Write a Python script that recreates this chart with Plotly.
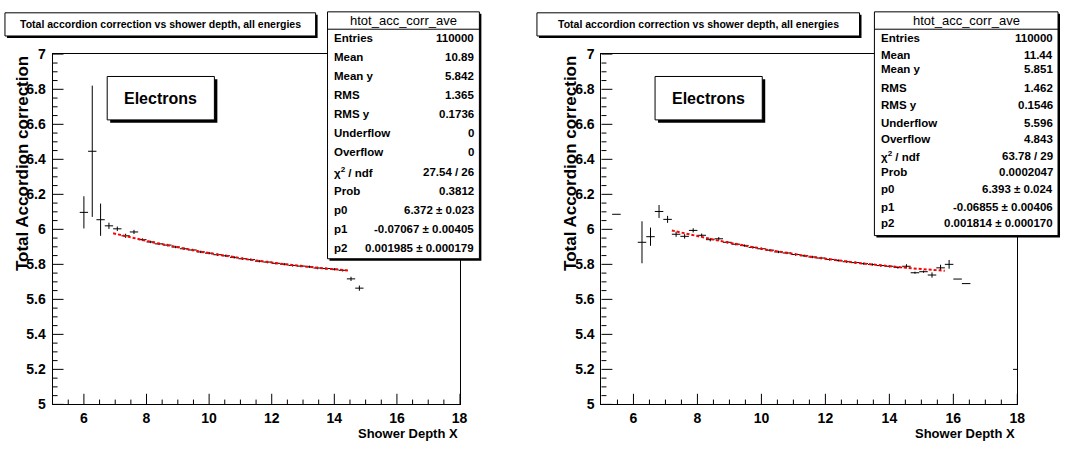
import numpy as np
import plotly.graph_objects as go

W, H = 1069, 450

# ---------------- profile data: bin centre, mean value, error on mean ----------------
left_x = [6.000, 6.267, 6.533, 6.800, 7.067, 7.333, 7.600, 7.867, 8.133, 8.400,
          8.667, 8.933, 9.200, 9.467, 9.733, 10.000, 10.267, 10.533, 10.800, 11.067,
          11.333, 11.600, 11.867, 12.133, 12.400, 12.667, 12.933, 13.200, 13.467, 13.733,
          14.000, 14.267, 14.533, 14.800]
left_y = [6.097, 6.446, 6.055, 6.020, 6.003, 5.963, 5.985, 5.941, 5.928, 5.917,
          5.910, 5.899, 5.889, 5.882, 5.871, 5.864, 5.855, 5.849, 5.840, 5.832,
          5.827, 5.818, 5.813, 5.806, 5.801, 5.794, 5.790, 5.786, 5.779, 5.776,
          5.772, 5.766, 5.717, 5.664]
left_err = [0.092, 0.375, 0.092, 0.018, 0.013, 0.012, 0.012, 0.008, 0.007, 0.007,
            0.007, 0.007, 0.007, 0.007, 0.007, 0.007, 0.007, 0.007, 0.007, 0.007,
            0.007, 0.007, 0.007, 0.007, 0.007, 0.007, 0.007, 0.007, 0.007, 0.007,
            0.007, 0.007, 0.012, 0.015]

right_x = [5.467, 6.267, 6.533, 6.800, 7.067, 7.333, 7.600, 7.867, 8.133, 8.400,
           8.667, 8.933, 9.200, 9.467, 9.733, 10.000, 10.267, 10.533, 10.800, 11.067,
           11.333, 11.600, 11.867, 12.133, 12.400, 12.667, 12.933, 13.200, 13.467, 13.733,
           14.000, 14.267, 14.533, 14.800, 15.067, 15.333, 15.600, 15.867, 16.133, 16.400,
           18.000]
right_y = [6.086, 5.926, 5.958, 6.102, 6.057, 5.972, 5.960, 5.994, 5.966, 5.941,
           5.946, 5.926, 5.915, 5.907, 5.897, 5.889, 5.881, 5.871, 5.865, 5.856,
           5.849, 5.842, 5.836, 5.828, 5.822, 5.815, 5.810, 5.804, 5.799, 5.793,
           5.789, 5.782, 5.789, 5.752, 5.758, 5.739, 5.780, 5.800, 5.716, 5.690,
           5.200]
right_err = [0.0, 0.120, 0.052, 0.037, 0.020, 0.015, 0.013, 0.012, 0.010, 0.010,
             0.010, 0.007, 0.007, 0.007, 0.007, 0.007, 0.007, 0.007, 0.007, 0.007,
             0.007, 0.007, 0.007, 0.007, 0.007, 0.007, 0.007, 0.007, 0.007, 0.007,
             0.007, 0.007, 0.012, 0.006, 0.006, 0.015, 0.018, 0.025, 0.0, 0.0,
             0.0]

BIN_HALF_WIDTH = 2.0 / 15.0

# pol2 fit results and fit ranges
left_fit = {"p0": 6.372, "p1": -0.07067, "p2": 0.001985, "xmin": 6.933, "xmax": 14.45}
right_fit = {"p0": 6.393, "p1": -0.06855, "p2": 0.001814, "xmin": 7.200, "xmax": 15.733}

left_stats = [("Entries", "110000"), ("Mean", "10.89"), ("Mean y", "5.842"),
              ("RMS", "1.365"), ("RMS y", "0.1736"), ("Underflow", "0"),
              ("Overflow", "0"), ("χ<sup>2</sup> / ndf", "27.54 / 26"),
              ("Prob", "0.3812"), ("p0", "6.372 ± 0.023"),
              ("p1", "-0.07067 ± 0.00405"), ("p2", "0.001985 ± 0.000179")]
right_stats = [("Entries", "110000"), ("Mean", "11.44"), ("Mean y", "5.851"),
               ("RMS", "1.462"), ("RMS y", "0.1546"), ("Underflow", "5.596"),
               ("Overflow", "4.843"), ("χ<sup>2</sup> / ndf", "63.78 / 29"),
               ("Prob", "0.0002047"), ("p0", "6.393 ± 0.024"),
               ("p1", "-0.06855 ± 0.00406"), ("p2", "0.001814 ± 0.000170")]

TITLE = "Total accordion correction vs shower depth, all energies"
HIST_NAME = "htot_acc_corr_ave"
Y_TITLE = "Total Accordion correction"
X_TITLE = "Shower Depth X"
LABEL = "Electrons"

X_RANGE = [5, 18]
Y_RANGE = [5, 7]
X_TICKS = [6, 8, 10, 12, 14, 16, 18]
X_MINOR = [5.5, 6.5, 7, 7.5, 8.5, 9, 9.5, 10.5, 11, 11.5, 12.5, 13, 13.5,
           14.5, 15, 15.5, 16.5, 17, 17.5]
Y_TICKS = [5.0, 5.2, 5.4, 5.6, 5.8, 6.0, 6.2, 6.4, 6.6, 6.8, 7.0]
Y_TICKTEXT = ["5", "5.2", "5.4", "5.6", "5.8", "6", "6.2", "6.4", "6.6", "6.8", "7"]
Y_MINOR_STEP = 0.05

FONT = "Liberation Sans, Arial, Helvetica, sans-serif"

# frame geometry in pixels (left, right, top, bottom)
frames = [(53, 463, 48, 411), (606, 1025, 48, 411)]
MAJOR_LEN, MINOR_LEN = 11, 5


def px(x):
    return x / W


def py(y):
    return 1 - y / H


fig = go.Figure()

panels = [
    (left_x, left_y, left_err, left_fit, "x", "y"),
    (right_x, right_y, right_err, right_fit, "x2", "y2"),
]
for xs, ys, errs, fit, xa, ya in panels:
    fig.add_trace(go.Scatter(
        x=xs, y=ys, mode="markers", xaxis=xa, yaxis=ya,
        marker=dict(size=1, color="black", opacity=0),
        error_x=dict(type="constant", value=BIN_HALF_WIDTH, width=0,
                     color="black", thickness=1),
        error_y=dict(type="data", array=errs, width=0, color="black", thickness=1),
        showlegend=False, hoverinfo="skip",
    ))
    xf = np.linspace(fit["xmin"], fit["xmax"], 200)
    yf = fit["p0"] + fit["p1"] * xf + fit["p2"] * xf ** 2
    fig.add_trace(go.Scatter(
        x=xf, y=yf, mode="lines", xaxis=xa, yaxis=ya,
        line=dict(color="red", width=2, dash="3px,2px"),
        showlegend=False, hoverinfo="skip",
    ))

tickfont = dict(family=FONT, size=14, color="black", weight="bold")


def xaxis_cfg(fr, anchor):
    return dict(
        domain=[px(fr[0]), px(fr[1])], anchor=anchor, range=X_RANGE,
        tickmode="array", tickvals=X_TICKS, ticktext=[str(t) for t in X_TICKS],
        ticks="", ticklabelstandoff=1,
        showline=True, linecolor="black", linewidth=1, mirror=True,
        showgrid=False, zeroline=False, tickfont=tickfont,
    )


def yaxis_cfg(fr, anchor):
    return dict(
        domain=[py(fr[3]), py(fr[2])], anchor=anchor, range=Y_RANGE,
        tickmode="array", tickvals=Y_TICKS, ticktext=Y_TICKTEXT,
        ticks="", ticklabelstandoff=3,
        showline=True, linecolor="black", linewidth=1, mirror=True,
        showgrid=False, zeroline=False, tickfont=tickfont,
    )


shapes = []
annotations = []

# tick marks drawn inward from the bottom and left frame edges
y_minor = [Y_RANGE[0] + Y_MINOR_STEP * i
           for i in range(int(round((Y_RANGE[1] - Y_RANGE[0]) / Y_MINOR_STEP)) + 1)]
y_minor = [v for v in y_minor if all(abs(v - t) > 1e-6 for t in Y_TICKS)]
for fr, xa, ya in [(frames[0], "x", "y"), (frames[1], "x2", "y2")]:
    fw, fh = fr[1] - fr[0], fr[3] - fr[2]
    for vals, ln in [(X_TICKS, MAJOR_LEN), (X_MINOR, MINOR_LEN)]:
        for v in vals:
            shapes.append(dict(type="line", xref=xa, yref=ya + " domain",
                               x0=v, x1=v, y0=0, y1=ln / fh,
                               line=dict(color="black", width=1)))
    for vals, ln in [(Y_TICKS, MAJOR_LEN), (y_minor, MINOR_LEN)]:
        for v in vals:
            shapes.append(dict(type="line", xref=xa + " domain", yref=ya,
                               x0=0, x1=ln / fw, y0=v, y1=v,
                               line=dict(color="black", width=1)))


def box(x0, y0, x1, y1, shadow=3):
    shapes.append(dict(type="rect", xref="paper", yref="paper", layer="above",
                       x0=px(x0 + shadow), x1=px(x1 + shadow),
                       y0=py(y1 + shadow), y1=py(y0 + shadow),
                       fillcolor="black", line=dict(width=0)))
    shapes.append(dict(type="rect", xref="paper", yref="paper", layer="above",
                       x0=px(x0), x1=px(x1), y0=py(y1), y1=py(y0),
                       fillcolor="white", line=dict(color="black", width=1)))


def text(x, y, s, size, bold=True, xanchor="center", angle=0):
    annotations.append(dict(
        x=px(x), y=py(y), xref="paper", yref="paper", text=s, showarrow=False,
        xanchor=xanchor, yanchor="middle", textangle=angle,
        font=dict(family=FONT, size=size, color="black",
                  weight="bold" if bold else "normal"),
    ))


layouts = [
    # title box, stat box, row centres, label box, y-title x
    dict(title=(5, 5, 318, 29), stat=(330, 4, 483, 260),
         rows=[31 + 19.8 * i for i in range(12)], label=(108, 71, 216, 116),
         ytitle=22, stats=left_stats),
    dict(title=(541, 5, 866, 29), stat=(881, 4, 1066, 236),
         rows=[31, 49, 63, 83, 101, 119, 136, 153, 170, 188, 206, 223],
         label=(660, 71, 768, 116), ytitle=575, stats=right_stats),
]

for fr, L in zip(frames, layouts):
    tx0, ty0, tx1, ty1 = L["title"]
    box(tx0, ty0, tx1, ty1, shadow=2)
    text((tx0 + tx1) / 2, (ty0 + ty1) / 2, TITLE, 10.5)

    sx0, sy0, sx1, sy1 = L["stat"]
    box(sx0, sy0, sx1, sy1, shadow=2)
    shapes.append(dict(type="line", xref="paper", yref="paper", layer="above",
                       x0=px(sx0), x1=px(sx1), y0=py(sy0 + 18), y1=py(sy0 + 18),
                       line=dict(color="black", width=1)))
    text((sx0 + sx1) / 2, sy0 + 9, HIST_NAME, 13, bold=False)
    for (name, val), ry in zip(L["stats"], L["rows"]):
        text(sx0 + 5, ry, name, 11.5, xanchor="left")
        text(sx1 - 3, ry, val, 11.5, xanchor="right")

    lx0, ly0, lx1, ly1 = L["label"]
    box(lx0, ly0, lx1, ly1, shadow=3)
    text((lx0 + lx1) / 2, (ly0 + ly1) / 2, LABEL, 16)

    text(L["ytitle"], 161, Y_TITLE, 17, angle=-90)
    text(fr[1], 441, X_TITLE, 13, xanchor="right")

fig.update_layout(
    width=W, height=H, margin=dict(l=0, r=0, t=0, b=0),
    paper_bgcolor="white", plot_bgcolor="white",
    xaxis=xaxis_cfg(frames[0], "y"), yaxis=yaxis_cfg(frames[0], "x"),
    xaxis2=xaxis_cfg(frames[1], "y2"), yaxis2=yaxis_cfg(frames[1], "x2"),
    shapes=shapes, annotations=annotations, showlegend=False,
)

fig.write_html("out.html")
